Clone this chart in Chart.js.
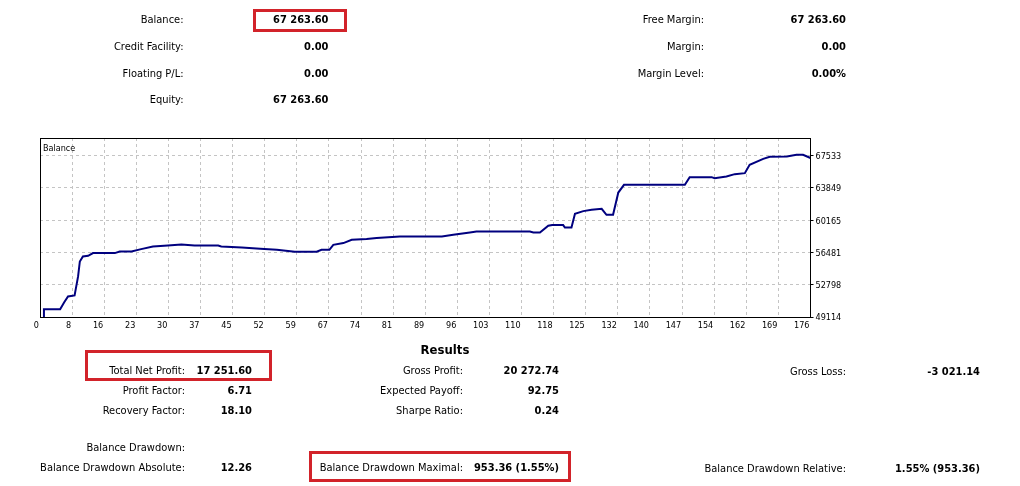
<!DOCTYPE html>
<html><head><meta charset="utf-8">
<script src="https://cdn.jsdelivr.net/npm/chart.js@4.4.1/dist/chart.umd.min.js"></script>
<style>
html,body{margin:0;padding:0;background:#fff;}
#wrap{position:relative;width:1020px;height:486px;overflow:hidden;font-family:"DejaVu Sans Condensed","DejaVu Sans",sans-serif;font-stretch:condensed;font-size:11px;color:#000;}
#c{position:absolute;left:0;top:0;}
.t{position:absolute;white-space:nowrap;line-height:14px;height:14px;}
.b{font-weight:bold;}
.box{position:absolute;border:3px solid #d2232a;box-sizing:border-box;}
</style></head><body>
<div id="wrap"><canvas id="c" width="1020" height="486"></canvas></div>
<script>
// ---- chart data ----
const seriesName = 'Balance';
const tradeIdx = [0.9,0.9,4.6,5.5,6.4,7.9,8.7,9.1,9.8,11.0,12.1,17.1,18.2,20.9,23.1,25.8,29.2,32.3,35.3,40.7,41.4,46.1,50.3,54.1,58.2,63.2,64.3,66.1,67.0,69.3,71.2,74.6,76.9,82.2,91.8,94.4,98.2,99.7,111.9,112.7,114.2,116.1,117.0,119.5,119.9,121.4,122.2,124.1,126.0,128.3,129.4,130.9,132.1,133.4,147.3,148.4,153.4,154.1,156.8,158.7,161.0,162.1,165.2,166.7,170.6,172.8,174.3,176.0];
const balance = [49114,50012,50012,50779,51463,51577,53742,55452,56022,56102,56410,56410,56592,56592,56866,57162,57276,57390,57276,57276,57162,57048,56900,56786,56558,56558,56786,56786,57356,57550,57926,58006,58120,58302,58302,58496,58758,58872,58872,58758,58758,59526,59606,59606,59332,59332,60895,61203,61351,61465,60781,60781,63324,64202,64202,65080,65080,64966,65149,65423,65537,66483,67168,67396,67430,67624,67624,67264];
const xTickLabels = ['0','8','16','23','30','37','45','52','59','67','74','81','89','96','103','110','118','125','132','140','147','154','162','169','176'];
const yTickValues = [49114,52798,56481,60165,63849,67533];
const xMax = 176;
const yMin = 49114, yMax = 69550;

// ---- report texts ----
const topLeftLabels = ['Balance:','Credit Facility:','Floating P/L:','Equity:'];
const topLeftValues = ['67 263.60','0.00','0.00','67 263.60'];
const topRightLabels = ['Free Margin:','Margin:','Margin Level:'];
const topRightValues = ['67 263.60','0.00','0.00%'];
const col1Labels = ['Total Net Profit:','Profit Factor:','Recovery Factor:','Balance Drawdown:','Balance Drawdown Absolute:'];
const col1Values = ['17 251.60','6.71','18.10','','12.26'];
const col2Labels = ['Gross Profit:','Expected Payoff:','Sharpe Ratio:','','Balance Drawdown Maximal:'];
const col2Values = ['20 272.74','92.75','0.24','','953.36 (1.55%)'];
const col3Labels = ['Gross Loss:','','','','Balance Drawdown Relative:'];
const col3Values = ['-3 021.14','','','','1.55% (953.36)'];

const wrap = document.getElementById('wrap');
function place(text, rx, cy, bold){
  if(!text) return;
  const d = document.createElement('div');
  d.className = 't' + (bold ? ' b' : '');
  d.style.right = (1020 - rx) + 'px';
  d.style.top = (cy - 7) + 'px';
  d.textContent = text;
  wrap.appendChild(d);
}
function box(l,t,r,b){
  const d = document.createElement('div');
  d.className='box';
  d.style.left=l+'px'; d.style.top=t+'px';
  d.style.width=(r-l)+'px'; d.style.height=(b-t)+'px';
  wrap.appendChild(d);
}
const topRows = [20,47,74,100];
topLeftLabels.forEach((s,i)=>{place(s,183.5,topRows[i],false); place(topLeftValues[i],328.5,topRows[i],true);});
topRightLabels.forEach((s,i)=>{place(s,704,topRows[i],false); place(topRightValues[i],846,topRows[i],true);});
const botRows = [371,391,411,448,468];
col1Labels.forEach((s,i)=>{place(s,185,botRows[i],false); place(col1Values[i],252,botRows[i],true);});
col2Labels.forEach((s,i)=>{place(s,463,botRows[i],false); place(col2Values[i],559,botRows[i],true);});
col3Labels.forEach((s,i)=>{place(s,846,botRows[i]+0.5,false); place(col3Values[i],980,botRows[i]+0.5,true);});
(function(){
  const d=document.createElement('div'); d.className='t b';
  d.style.left='395px'; d.style.width='100px'; d.style.textAlign='center';
  d.style.top=(349.5-8)+'px'; d.style.fontSize='13px'; d.style.lineHeight='16px'; d.style.height='16px';
  d.textContent='Results'; wrap.appendChild(d);
  const c=document.createElement('div'); c.className='t';
  c.style.left='43px'; c.style.top=(147.5-6)+'px'; c.style.fontSize='9px'; c.style.lineHeight='12px';
  c.textContent=seriesName; wrap.appendChild(c);
})();
box(253,9,347,32);
box(85,350,272,381);
box(309,451,571,482);

// ---- chart ----
const FONT = "'DejaVu Sans Condensed','DejaVu Sans',sans-serif";
const frame = {
  id:'frame',
  afterDraw(chart){
    const a = chart.chartArea, ctx = chart.ctx;
    ctx.save();
    ctx.strokeStyle = '#000'; ctx.lineWidth = 1;
    ctx.strokeRect(Math.round(a.left)+0.5, Math.round(a.top)+0.5, Math.round(a.right-a.left)-1, Math.round(a.bottom-a.top));
    ctx.restore();
  }
};
new Chart(document.getElementById('c'), {
  type:'line',
  data:{datasets:[{label:seriesName, data: tradeIdx.map((x,i)=>({x:x, y:balance[i]})),
    borderColor:'#00007f', borderWidth:2, pointRadius:0, tension:0, fill:false}]},
  options:{
    responsive:false, animation:false, devicePixelRatio:1,
    layout:{padding:{left:40, top:138, right:169.5, bottom:155}},
    plugins:{legend:{display:false}, tooltip:{enabled:false}, title:{display:false}},
    scales:{
      x:{type:'linear', min:0, max:xMax,
        afterBuildTicks:s=>{ s.ticks = xTickLabels.map((l,k)=>({value:k*xMax/(xTickLabels.length-1)})); },
        afterFit:s=>{ s.height = 14; },
        grid:{color:'#c4c4c4', drawTicks:false},
        border:{display:true, color:'#000', width:1, dash:[3,3]},
        ticks:{autoSkip:false, maxRotation:0, minRotation:0, align:'end', padding:3, labelOffset:-1, color:'#000',
          font:{family:FONT, size:9}, callback:(v,i)=>xTickLabels[i]}
      },
      y:{type:'linear', position:'right', min:yMin, max:yMax,
        afterBuildTicks:s=>{ s.ticks = yTickValues.map(v=>({value:v})); },
        afterFit:s=>{ s.width = 40; },
        grid:{color:'#c4c4c4', drawTicks:true, tickLength:3, tickColor:'#000'},
        border:{display:true, color:'#000', width:1, dash:[3,3]},
        ticks:{padding:2, labelOffset:1, color:'#000', font:{family:FONT, size:9}, callback:v=>String(v)}
      }
    }
  },
  plugins:[frame]
});
</script>
</body></html>
